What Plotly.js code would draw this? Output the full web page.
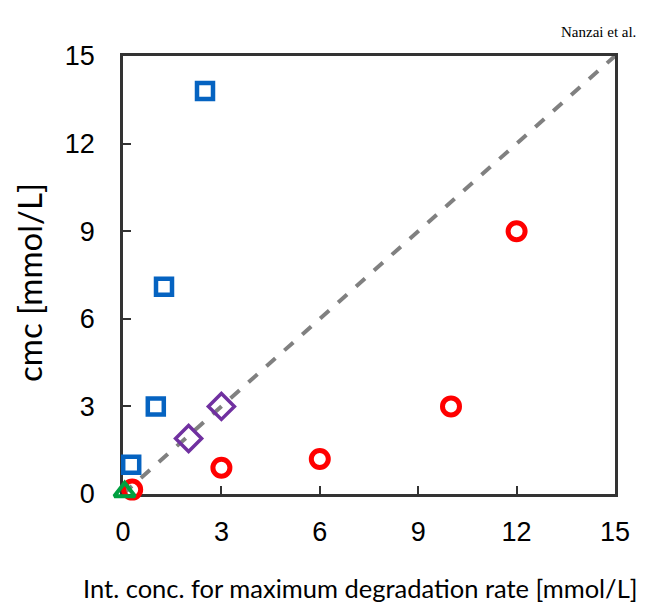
<!DOCTYPE html>
<html><head><meta charset="utf-8">
<script src="https://cdn.plot.ly/plotly-3.0.1.min.js"></script>
<style>body{margin:0;background:#fff}#c{width:646px;height:602px}</style>
</head><body><div id="c"></div>
<script>
var blueX=[2.5,1.25,1.0,0.25];
var blueY=[13.8,7.1,3.0,1.0];
var purpleX=[2.0,3.0];
var purpleY=[1.9,3.0];
var redX=[0.28,3.0,6.0,10.0,12.0];
var redY=[0.15,0.9,1.2,3.0,9.0];
var greenX=[0.05];
var greenY=[0.08];
var lineX=[0,15];
var lineY=[0,15];
var tickVals=[0,3,6,9,12,15];

var traces=[
 {x:lineX,y:lineY,mode:'lines',line:{color:'#808080',width:4,dash:'dash'},hoverinfo:'skip'},
 {x:blueX,y:blueY,mode:'markers',cliponaxis:false,marker:{symbol:'square-open',size:16,color:'#0563C1',line:{width:4.5,color:'#0563C1'}}},
 {x:purpleX,y:purpleY,mode:'markers',cliponaxis:false,marker:{symbol:'diamond-open',size:20,color:'#7030A0',line:{width:3.5,color:'#7030A0'}}},
 {x:redX,y:redY,mode:'markers',cliponaxis:false,marker:{symbol:'circle-open',size:17,color:'#FF0000',line:{width:5,color:'#FF0000'}}},
 {x:greenX,y:greenY,mode:'markers',cliponaxis:false,marker:{symbol:'triangle-up-open',size:18,color:'#00A040',line:{width:4,color:'#00A040'}}}
];
var layout={
 width:646,height:602,showlegend:false,
 margin:{l:123,r:31,t:56,b:108},
 paper_bgcolor:'#fff',plot_bgcolor:'#fff',
 font:{family:'Liberation Sans, Arial, sans-serif',color:'#000'},
 xaxis:{range:[0,15],tickvals:tickVals,ticks:'inside',ticklen:8,tickwidth:2,tickcolor:'#333',layer:'below traces',
   showline:true,linecolor:'#333',linewidth:2.5,mirror:true,showgrid:false,zeroline:false,
   ticklabelstandoff:12,
   tickfont:{size:27,family:'Liberation Sans, Arial, sans-serif'}},
 yaxis:{range:[0,15],tickvals:tickVals,ticks:'inside',ticklen:8,tickwidth:2,tickcolor:'#333',layer:'below traces',
   showline:true,linecolor:'#333',linewidth:2.5,mirror:true,showgrid:false,zeroline:false,
   ticklabelstandoff:20,
   tickfont:{size:27,family:'Liberation Sans, Arial, sans-serif'}},
 annotations:[
  {text:'Nanzai et al.',xref:'paper',yref:'paper',x:1.0,y:1.0,xanchor:'right',yanchor:'bottom',
   xshift:23,yshift:14,showarrow:false,font:{family:'Liberation Serif, Times New Roman, serif',size:15}},
  {text:'Int. conc. for maximum degradation rate [mmol/L]',xref:'paper',yref:'paper',x:0.5,y:0,xanchor:'center',yanchor:'middle',
   xshift:-9,yshift:-94,showarrow:false,font:{size:25.5,family:'Lato, Noto Sans, sans-serif'}},
  {text:'cmc [mmol/L]',xref:'paper',yref:'paper',x:0,y:0.5,xanchor:'center',yanchor:'middle',textangle:-90,
   xshift:-94,yshift:-8,showarrow:false,font:{size:33,family:'Lato, Noto Sans, sans-serif'}}
 ]
};
Plotly.newPlot('c',traces,layout,{displayModeBar:false});
</script></body></html>
